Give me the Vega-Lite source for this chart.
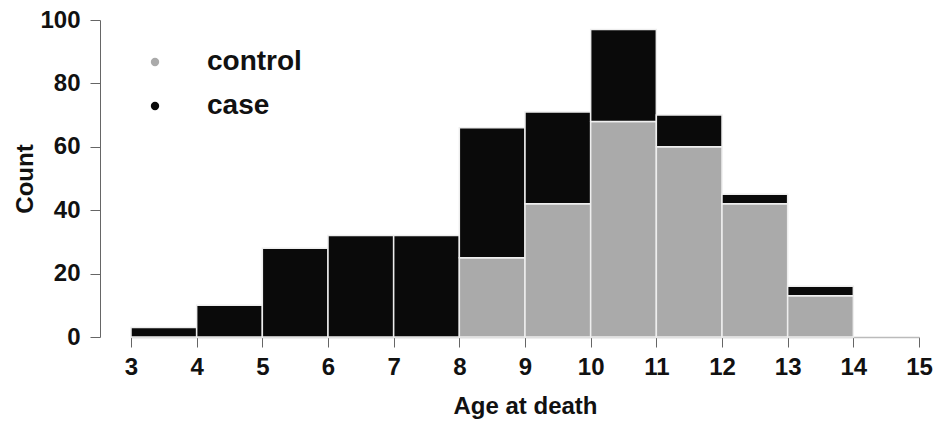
{
  "$schema": "https://vega.github.io/schema/vega-lite/v6.json",
  "width": 788,
  "height": 317,
  "autosize": {"type": "none"},
  "padding": {"left": 131, "top": 20, "right": 23, "bottom": 84},
  "background": "white",
  "config": {
    "view": {"stroke": null},
    "font": "Liberation Sans"
  },
  "data": {
    "values": [
      {"start": 3, "end": 4, "group": "control", "ord": 0, "count": 0},
      {"start": 3, "end": 4, "group": "case", "ord": 1, "count": 3},
      {"start": 4, "end": 5, "group": "control", "ord": 0, "count": 0},
      {"start": 4, "end": 5, "group": "case", "ord": 1, "count": 10},
      {"start": 5, "end": 6, "group": "control", "ord": 0, "count": 0},
      {"start": 5, "end": 6, "group": "case", "ord": 1, "count": 28},
      {"start": 6, "end": 7, "group": "control", "ord": 0, "count": 0},
      {"start": 6, "end": 7, "group": "case", "ord": 1, "count": 32},
      {"start": 7, "end": 8, "group": "control", "ord": 0, "count": 0},
      {"start": 7, "end": 8, "group": "case", "ord": 1, "count": 32},
      {"start": 8, "end": 9, "group": "control", "ord": 0, "count": 25},
      {"start": 8, "end": 9, "group": "case", "ord": 1, "count": 41},
      {"start": 9, "end": 10, "group": "control", "ord": 0, "count": 42},
      {"start": 9, "end": 10, "group": "case", "ord": 1, "count": 29},
      {"start": 10, "end": 11, "group": "control", "ord": 0, "count": 68},
      {"start": 10, "end": 11, "group": "case", "ord": 1, "count": 29},
      {"start": 11, "end": 12, "group": "control", "ord": 0, "count": 60},
      {"start": 11, "end": 12, "group": "case", "ord": 1, "count": 10},
      {"start": 12, "end": 13, "group": "control", "ord": 0, "count": 42},
      {"start": 12, "end": 13, "group": "case", "ord": 1, "count": 3},
      {"start": 13, "end": 14, "group": "control", "ord": 0, "count": 13},
      {"start": 13, "end": 14, "group": "case", "ord": 1, "count": 3}
    ]
  },
  "transform": [
    {"stack": "count", "groupby": ["start"], "sort": [{"field": "ord", "order": "ascending"}], "as": ["y0", "y1"]},
    {"filter": "datum.count > 0"}
  ],
  "mark": {"type": "bar", "stroke": "#eeeeee", "strokeWidth": 1.5},
  "encoding": {
    "x": {
      "field": "start",
      "type": "quantitative",
      "scale": {"domain": [3, 15], "nice": false, "zero": false, "padding": 0},
      "axis": {
        "values": [3, 4, 5, 6, 7, 8, 9, 10, 11, 12, 13, 14, 15],
        "labelFlush": false,
        "title": "Age at death",
        "titleFontSize": 24,
        "titleFontWeight": "bold",
        "titleColor": "#111",
        "titlePadding": 15,
        "labelFontSize": 24,
        "labelFontWeight": "bold",
        "labelColor": "#111",
        "labelPadding": 8,
        "tickSize": 10,
        "tickColor": "#666",
        "domainColor": "#bbbbbb",
        "domainWidth": 1.5,
        "grid": false,
        "offset": 0
      }
    },
    "x2": {"field": "end"},
    "y": {
      "field": "y0",
      "type": "quantitative",
      "scale": {"domain": [0, 100], "nice": false, "padding": 0},
      "axis": {
        "values": [0, 20, 40, 60, 80, 100],
        "labelFlush": false,
        "title": "Count",
        "titleFontSize": 24,
        "titleFontWeight": "bold",
        "titleColor": "#111",
        "titlePadding": 2,
        "labelFontSize": 24,
        "labelFontWeight": "bold",
        "labelColor": "#111",
        "labelPadding": 10,
        "tickSize": 10,
        "tickColor": "#666",
        "domainColor": "#666",
        "grid": false,
        "offset": 31
      }
    },
    "y2": {"field": "y1"},
    "color": {
      "field": "group",
      "type": "nominal",
      "scale": {"domain": ["control", "case"], "range": ["#aaaaaa", "#0a0a0a"]},
      "legend": {
        "title": null,
        "orient": "none",
        "legendX": 10,
        "legendY": 28,
        "symbolType": "circle",
        "symbolSize": 70,
        "symbolStrokeWidth": 0,
        "labelFontSize": 28,
        "labelFontWeight": "bold",
        "labelColor": "#111",
        "labelOffset": 38,
        "rowPadding": 16
      }
    }
  }
}
